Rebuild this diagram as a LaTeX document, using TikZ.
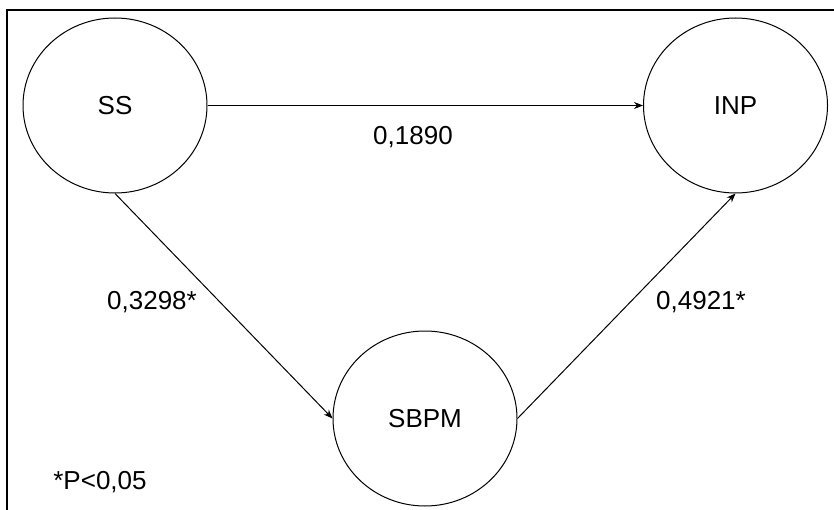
\documentclass[tikz,border=0pt]{standalone}
\usepackage{fontspec}
\setmainfont{Liberation Sans}
\usetikzlibrary{shapes.geometric,arrows.meta}
\begin{document}
\begin{tikzpicture}[x=1pt,y=-1pt,
  latent/.style={draw, ellipse, line width=1pt, minimum width=184pt, minimum height=175pt, inner sep=0pt, font=\fontsize{26}{30}\selectfont},
  lbl/.style={font=\fontsize{26}{30}\selectfont, inner sep=0pt},
  path/.style={line width=1pt, -{Stealth[length=9pt,width=7pt]}}]
\useasboundingbox (0,0) rectangle (834,510);
\fill[white] (0,0) rectangle (834,510);
\draw[line width=2pt] (7,520) -- (7,10) -- (840,10);
\node[latent] (SS) at (115,105.5) {SS};
\node[latent] (INP) at (735.5,105.5) {INP};
\node[latent] (SBPM) at (425,418.5) {SBPM};
\draw[path] (SS.east) -- (INP.west);
\draw[path] (SS.south) -- (SBPM.west);
\draw[path] (SBPM.east) -- (INP.south);
\node[lbl] (l1) at (413,137) {0,1890};
\node[lbl] (l2) at (152,302) {0,3298*};
\node[lbl] (l3) at (701,302) {0,4921*};
\node[lbl] (note) at (100,482) {*P<0,05};
\end{tikzpicture}
\end{document}
